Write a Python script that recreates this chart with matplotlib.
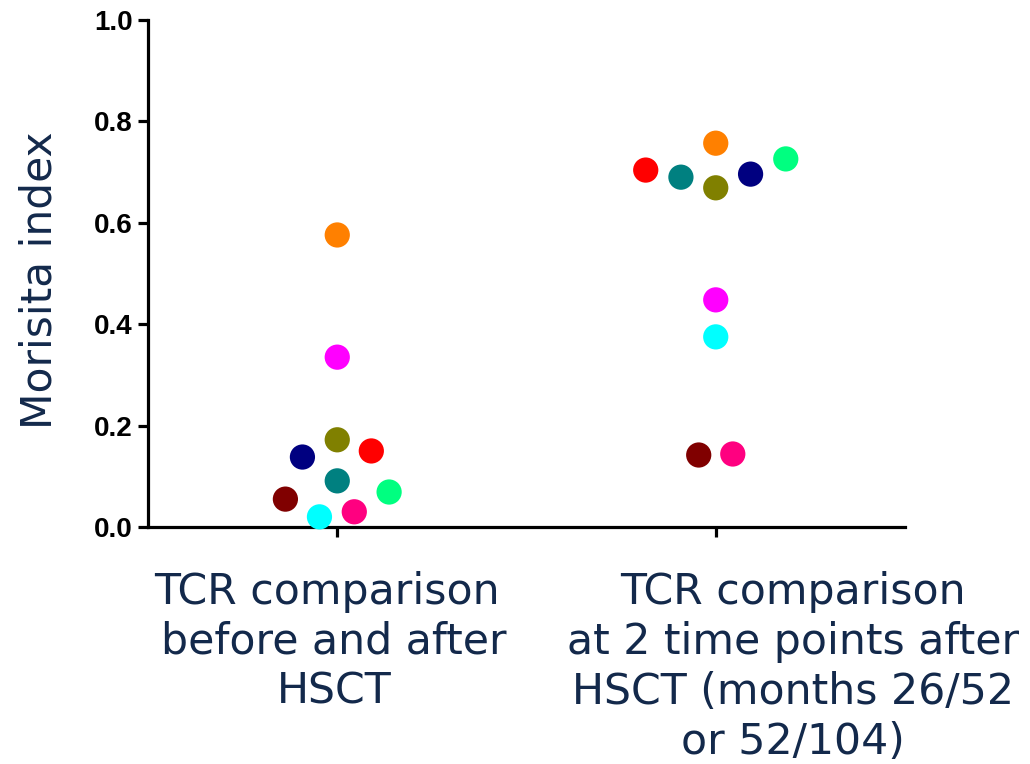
import matplotlib
matplotlib.use("Agg")
import matplotlib.pyplot as plt

# Data
categories = ["TCR comparison \nbefore and after\nHSCT",
              "TCR comparison\nat 2 time points after\nHSCT (months 26/52\nor 52/104)"]
patients = ["orange", "magenta", "olive", "red", "navy", "teal", "green", "darkred", "pink", "cyan"]
colors = ["#FF8000", "#FF00FF", "#808000", "#FF0000", "#000080",
          "#008080", "#00FF80", "#800000", "#FF0080", "#00FFFF"]
values_before_after = [0.576, 0.335, 0.172, 0.150, 0.138, 0.091, 0.069, 0.055, 0.030, 0.020]
values_two_timepoints = [0.757, 0.448, 0.669, 0.704, 0.696, 0.690, 0.726, 0.142, 0.144, 0.375]
# swarm (beeswarm) horizontal offsets, in category units
swarm_before_after = [0.0, 0.0, 0.0, 0.090, -0.092, 0.0, 0.137, -0.137, 0.045, -0.047]
swarm_two_timepoints = [0.0, 0.0, 0.0, -0.185, 0.092, -0.092, 0.185, -0.045, 0.045, 0.0]
yticks = [0.0, 0.2, 0.4, 0.6, 0.8, 1.0]
ylabel = "Morisita index"

text_color = "#13294B"
W, H = 1030, 764

fig = plt.figure(figsize=(W / 100, H / 100), dpi=100)
ax = fig.add_axes([148/W, 1-527/H, (905-148)/W, (527-20)/H])

for gi, (vals, offs) in enumerate([(values_before_after, swarm_before_after),
                                    (values_two_timepoints, swarm_two_timepoints)]):
    xs = [gi + o for o in offs]
    ax.scatter(xs, vals, s=330, c=colors, edgecolors="none", zorder=3, clip_on=False)

ax.set_xlim(-0.5, 1.5)
ax.set_ylim(0, 1.0)
ax.set_yticks(yticks)
ax.set_yticklabels([f"{t:.1f}" for t in yticks], fontfamily="Liberation Sans",
                   fontweight="bold", fontsize=20)
ax.set_xticks([0, 1])
ax.set_xticklabels([])

# category labels (placed as in the original, slightly off the tick centres)
label_centres_px = [334, 793]
for cx, lab in zip(label_centres_px, categories):
    fig.text(cx / W, 1 - 571 / H, lab, fontfamily="DejaVu Sans", fontsize=30.7,
             color=text_color, linespacing=1.24, ha="center", va="top", multialignment="center")

fig.text(40 / W, 1 - 280 / H, ylabel, fontfamily="DejaVu Sans", fontsize=30.5,
         color=text_color, rotation=90, ha="center", va="center")

for side in ["top", "right"]:
    ax.spines[side].set_visible(False)
for side in ["left", "bottom"]:
    ax.spines[side].set_linewidth(2.3)
ax.tick_params(axis="both", width=2.3, length=7, color="black")
ax.tick_params(axis="y", pad=4)

fig.savefig("out.png", dpi=100, facecolor="white")
